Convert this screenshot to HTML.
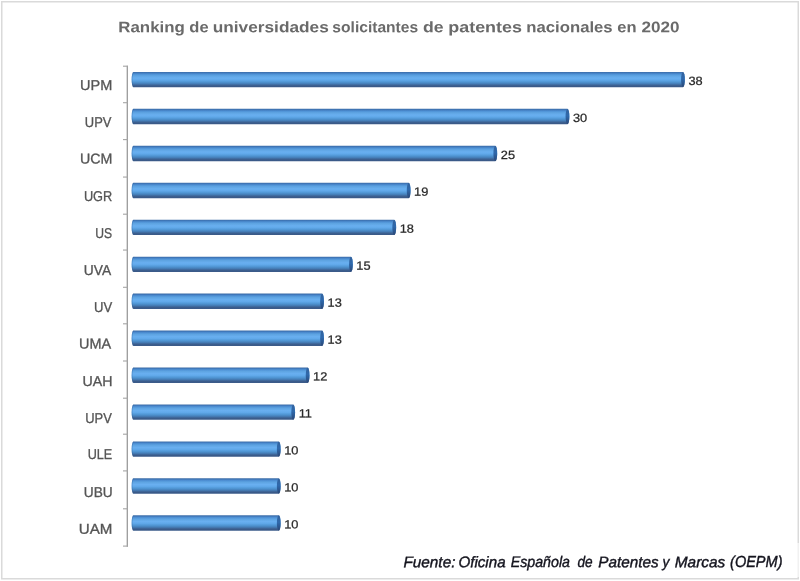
<!DOCTYPE html>
<html lang="es"><head><meta charset="utf-8">
<title>Ranking de universidades solicitantes de patentes nacionales en 2020</title>
<style>
html,body{margin:0;padding:0;background:#fff;}
body{width:800px;height:581px;overflow:hidden;font-family:"Liberation Sans",sans-serif;}
svg{display:block;text-rendering:geometricPrecision;}
.t{font-family:"Liberation Sans",sans-serif;font-weight:bold;fill:#6a6a6a;}
.c{font-family:"Liberation Sans",sans-serif;fill:#555555;stroke:#555555;stroke-width:0.3px;}
.v{font-family:"Liberation Sans",sans-serif;fill:#2a2a2a;stroke:#2a2a2a;stroke-width:0.25px;}
.f{font-family:"Liberation Sans",sans-serif;font-style:italic;fill:#14141e;stroke:#14141e;stroke-width:0.4px;}
</style></head><body>
<svg width="800" height="581" viewBox="0 0 800 581">
<defs>
<linearGradient id="g" x1="0" y1="0" x2="0" y2="1">
<stop offset="0" stop-color="#3e6ea6"/>
<stop offset="0.06" stop-color="#3f76b8"/>
<stop offset="0.15" stop-color="#4f92d6"/>
<stop offset="0.25" stop-color="#5ea4e2"/>
<stop offset="0.4" stop-color="#69aff0"/>
<stop offset="0.52" stop-color="#61a9ea"/>
<stop offset="0.65" stop-color="#5096d4"/>
<stop offset="0.76" stop-color="#4680ba"/>
<stop offset="0.86" stop-color="#3e6496"/>
<stop offset="0.93" stop-color="#395886"/>
<stop offset="1" stop-color="#3d5d8c"/>
</linearGradient>
<linearGradient id="cap" x1="0" y1="0" x2="0" y2="1">
<stop offset="0" stop-color="#33629c"/>
<stop offset="0.45" stop-color="#2f69ac"/>
<stop offset="1" stop-color="#2a4878"/>
</linearGradient>
</defs>
<rect x="0" y="0" width="800" height="581" fill="#ffffff"/>
<rect x="1.75" y="1.75" width="796.5" height="577" fill="none" stroke="#dadada" stroke-width="1.5"/>
<rect x="796" y="543" width="4" height="34" fill="#ffffff"/>
<rect x="797.5" y="543" width="1.5" height="34" fill="#f1f1f1"/>
<g transform="matrix(1 0.0005 0 1 0 0)">
<text class="t"><tspan x="118.32" y="32.14" font-size="15.3" textLength="66.52" lengthAdjust="spacingAndGlyphs">Ranking</tspan> <tspan x="189.34" y="32.11" font-size="15.3" textLength="19.27" lengthAdjust="spacingAndGlyphs">de</tspan> <tspan x="212.71" y="32.09" font-size="15.3" textLength="116.06" lengthAdjust="spacingAndGlyphs">universidades</tspan> <tspan x="332.38" y="32.03" font-size="15.3" textLength="85.78" lengthAdjust="spacingAndGlyphs">solicitantes</tspan> <tspan x="423.04" y="31.99" font-size="15.3" textLength="20.61" lengthAdjust="spacingAndGlyphs">de</tspan> <tspan x="448.24" y="31.98" font-size="15.3" textLength="73.77" lengthAdjust="spacingAndGlyphs">patentes</tspan> <tspan x="526.33" y="31.94" font-size="15.3" textLength="86.32" lengthAdjust="spacingAndGlyphs">nacionales</tspan> <tspan x="617.34" y="31.89" font-size="15.3" textLength="19.27" lengthAdjust="spacingAndGlyphs">en</tspan> <tspan x="641.49" y="31.88" font-size="15.3" textLength="38.03" lengthAdjust="spacingAndGlyphs">2020</tspan></text>
</g>
<line x1="127.3" y1="65.7" x2="127.3" y2="546.8" stroke="#9a9a9a" stroke-width="1.3"/>
<line x1="123.0" y1="66.2" x2="127.9" y2="66.2" stroke="#a4a4a4" stroke-width="1.1"/>
<line x1="123.0" y1="102.7" x2="127.9" y2="102.7" stroke="#a4a4a4" stroke-width="1.1"/>
<line x1="123.0" y1="139.6" x2="127.9" y2="139.6" stroke="#a4a4a4" stroke-width="1.1"/>
<line x1="123.0" y1="177.06" x2="127.9" y2="177.06" stroke="#a4a4a4" stroke-width="1.1"/>
<line x1="123.0" y1="214.2" x2="127.9" y2="214.2" stroke="#a4a4a4" stroke-width="1.1"/>
<line x1="123.0" y1="250.05" x2="127.9" y2="250.05" stroke="#a4a4a4" stroke-width="1.1"/>
<line x1="123.0" y1="287.3" x2="127.9" y2="287.3" stroke="#a4a4a4" stroke-width="1.1"/>
<line x1="123.0" y1="323.8" x2="127.9" y2="323.8" stroke="#a4a4a4" stroke-width="1.1"/>
<line x1="123.0" y1="361" x2="127.9" y2="361" stroke="#a4a4a4" stroke-width="1.1"/>
<line x1="123.0" y1="398.2" x2="127.9" y2="398.2" stroke="#a4a4a4" stroke-width="1.1"/>
<line x1="123.0" y1="434.2" x2="127.9" y2="434.2" stroke="#a4a4a4" stroke-width="1.1"/>
<line x1="123.0" y1="470.9" x2="127.9" y2="470.9" stroke="#a4a4a4" stroke-width="1.1"/>
<line x1="123.0" y1="508.8" x2="127.9" y2="508.8" stroke="#a4a4a4" stroke-width="1.1"/>
<line x1="123.0" y1="546.1" x2="127.9" y2="546.1" stroke="#a4a4a4" stroke-width="1.1"/>
<path d="M133.5,71.9 L682.97,71.9 A1.9,7.7 0 0 1 682.97,87.3 L133.5,87.3 A1.9,7.7 0 0 1 133.5,71.9 Z" fill="url(#g)"/>
<path d="M133.5,71.9 A1.9,7.7 0 0 0 133.5,87.3 L134.4,87.3 A1.9,7.7 0 0 1 134.4,71.9 Z" fill="#2f5f98" fill-opacity="0.35"/>
<ellipse cx="682.97" cy="79.6" rx="1.9" ry="7.4" fill="url(#cap)"/>
<path d="M133.5,108.85 L567.48,108.85 A1.9,7.7 0 0 1 567.48,124.25 L133.5,124.25 A1.9,7.7 0 0 1 133.5,108.85 Z" fill="url(#g)"/>
<path d="M133.5,108.85 A1.9,7.7 0 0 0 133.5,124.25 L134.4,124.25 A1.9,7.7 0 0 1 134.4,108.85 Z" fill="#2f5f98" fill-opacity="0.35"/>
<ellipse cx="567.48" cy="116.55" rx="1.9" ry="7.4" fill="url(#cap)"/>
<path d="M133.5,145.8 L495.3,145.8 A1.9,7.7 0 0 1 495.3,161.2 L133.5,161.2 A1.9,7.7 0 0 1 133.5,145.8 Z" fill="url(#g)"/>
<path d="M133.5,145.8 A1.9,7.7 0 0 0 133.5,161.2 L134.4,161.2 A1.9,7.7 0 0 1 134.4,145.8 Z" fill="#2f5f98" fill-opacity="0.35"/>
<ellipse cx="495.3" cy="153.5" rx="1.9" ry="7.4" fill="url(#cap)"/>
<path d="M133.5,182.75 L408.68,182.75 A1.9,7.7 0 0 1 408.68,198.15 L133.5,198.15 A1.9,7.7 0 0 1 133.5,182.75 Z" fill="url(#g)"/>
<path d="M133.5,182.75 A1.9,7.7 0 0 0 133.5,198.15 L134.4,198.15 A1.9,7.7 0 0 1 134.4,182.75 Z" fill="#2f5f98" fill-opacity="0.35"/>
<ellipse cx="408.68" cy="190.45" rx="1.9" ry="7.4" fill="url(#cap)"/>
<path d="M133.5,219.7 L394.25,219.7 A1.9,7.7 0 0 1 394.25,235.1 L133.5,235.1 A1.9,7.7 0 0 1 133.5,219.7 Z" fill="url(#g)"/>
<path d="M133.5,219.7 A1.9,7.7 0 0 0 133.5,235.1 L134.4,235.1 A1.9,7.7 0 0 1 134.4,219.7 Z" fill="#2f5f98" fill-opacity="0.35"/>
<ellipse cx="394.25" cy="227.4" rx="1.9" ry="7.4" fill="url(#cap)"/>
<path d="M133.5,256.65 L350.94,256.65 A1.9,7.7 0 0 1 350.94,272.05 L133.5,272.05 A1.9,7.7 0 0 1 133.5,256.65 Z" fill="url(#g)"/>
<path d="M133.5,256.65 A1.9,7.7 0 0 0 133.5,272.05 L134.4,272.05 A1.9,7.7 0 0 1 134.4,256.65 Z" fill="#2f5f98" fill-opacity="0.35"/>
<ellipse cx="350.94" cy="264.35" rx="1.9" ry="7.4" fill="url(#cap)"/>
<path d="M133.5,293.6 L322.07,293.6 A1.9,7.7 0 0 1 322.07,309 L133.5,309 A1.9,7.7 0 0 1 133.5,293.6 Z" fill="url(#g)"/>
<path d="M133.5,293.6 A1.9,7.7 0 0 0 133.5,309 L134.4,309 A1.9,7.7 0 0 1 134.4,293.6 Z" fill="#2f5f98" fill-opacity="0.35"/>
<ellipse cx="322.07" cy="301.3" rx="1.9" ry="7.4" fill="url(#cap)"/>
<path d="M133.5,330.55 L322.07,330.55 A1.9,7.7 0 0 1 322.07,345.95 L133.5,345.95 A1.9,7.7 0 0 1 133.5,330.55 Z" fill="url(#g)"/>
<path d="M133.5,330.55 A1.9,7.7 0 0 0 133.5,345.95 L134.4,345.95 A1.9,7.7 0 0 1 134.4,330.55 Z" fill="#2f5f98" fill-opacity="0.35"/>
<ellipse cx="322.07" cy="338.25" rx="1.9" ry="7.4" fill="url(#cap)"/>
<path d="M133.5,367.5 L307.63,367.5 A1.9,7.7 0 0 1 307.63,382.9 L133.5,382.9 A1.9,7.7 0 0 1 133.5,367.5 Z" fill="url(#g)"/>
<path d="M133.5,367.5 A1.9,7.7 0 0 0 133.5,382.9 L134.4,382.9 A1.9,7.7 0 0 1 134.4,367.5 Z" fill="#2f5f98" fill-opacity="0.35"/>
<ellipse cx="307.63" cy="375.2" rx="1.9" ry="7.4" fill="url(#cap)"/>
<path d="M133.5,404.45 L293.2,404.45 A1.9,7.7 0 0 1 293.2,419.85 L133.5,419.85 A1.9,7.7 0 0 1 133.5,404.45 Z" fill="url(#g)"/>
<path d="M133.5,404.45 A1.9,7.7 0 0 0 133.5,419.85 L134.4,419.85 A1.9,7.7 0 0 1 134.4,404.45 Z" fill="#2f5f98" fill-opacity="0.35"/>
<ellipse cx="293.2" cy="412.15" rx="1.9" ry="7.4" fill="url(#cap)"/>
<path d="M133.5,441.4 L278.76,441.4 A1.9,7.7 0 0 1 278.76,456.8 L133.5,456.8 A1.9,7.7 0 0 1 133.5,441.4 Z" fill="url(#g)"/>
<path d="M133.5,441.4 A1.9,7.7 0 0 0 133.5,456.8 L134.4,456.8 A1.9,7.7 0 0 1 134.4,441.4 Z" fill="#2f5f98" fill-opacity="0.35"/>
<ellipse cx="278.76" cy="449.1" rx="1.9" ry="7.4" fill="url(#cap)"/>
<path d="M133.5,478.35 L278.76,478.35 A1.9,7.7 0 0 1 278.76,493.75 L133.5,493.75 A1.9,7.7 0 0 1 133.5,478.35 Z" fill="url(#g)"/>
<path d="M133.5,478.35 A1.9,7.7 0 0 0 133.5,493.75 L134.4,493.75 A1.9,7.7 0 0 1 134.4,478.35 Z" fill="#2f5f98" fill-opacity="0.35"/>
<ellipse cx="278.76" cy="486.05" rx="1.9" ry="7.4" fill="url(#cap)"/>
<path d="M133.5,515.3 L278.76,515.3 A1.9,7.7 0 0 1 278.76,530.7 L133.5,530.7 A1.9,7.7 0 0 1 133.5,515.3 Z" fill="url(#g)"/>
<path d="M133.5,515.3 A1.9,7.7 0 0 0 133.5,530.7 L134.4,530.7 A1.9,7.7 0 0 1 134.4,515.3 Z" fill="#2f5f98" fill-opacity="0.35"/>
<ellipse cx="278.76" cy="523" rx="1.9" ry="7.4" fill="url(#cap)"/>
<g transform="matrix(1 0.0005 0 1 0 0)">
<text class="c" x="79.99" y="89.96" font-size="14.2" textLength="32.25" lengthAdjust="spacingAndGlyphs">UPM</text>
<text class="v" x="688.46" y="84.66" font-size="12" textLength="14.26" lengthAdjust="spacingAndGlyphs">38</text>
<text class="c" x="84.86" y="126.76" font-size="14.2" textLength="26.62" lengthAdjust="spacingAndGlyphs">UPV</text>
<text class="v" x="572.97" y="121.66" font-size="12" textLength="14.26" lengthAdjust="spacingAndGlyphs">30</text>
<text class="c" x="80.06" y="163.36" font-size="14.2" textLength="32.44" lengthAdjust="spacingAndGlyphs">UCM</text>
<text class="v" x="500.78" y="158.65" font-size="12" textLength="14.26" lengthAdjust="spacingAndGlyphs">25</text>
<text class="c" x="83.88" y="200.86" font-size="14.2" textLength="28.39" lengthAdjust="spacingAndGlyphs">UGR</text>
<text class="v" x="414.14" y="195.64" font-size="12" textLength="14.26" lengthAdjust="spacingAndGlyphs">19</text>
<text class="c" x="95.33" y="237.65" font-size="14.2" textLength="16.87" lengthAdjust="spacingAndGlyphs">US</text>
<text class="v" x="399.7" y="232.6" font-size="12" textLength="14.26" lengthAdjust="spacingAndGlyphs">18</text>
<text class="c" x="83.8" y="275.21" font-size="14.2" textLength="27.33" lengthAdjust="spacingAndGlyphs">UVA</text>
<text class="v" x="356.39" y="269.57" font-size="12" textLength="14.26" lengthAdjust="spacingAndGlyphs">15</text>
<text class="c" x="93.95" y="311.65" font-size="14.2" textLength="18.17" lengthAdjust="spacingAndGlyphs">UV</text>
<text class="v" x="327.52" y="306.54" font-size="12" textLength="14.26" lengthAdjust="spacingAndGlyphs">13</text>
<text class="c" x="79.04" y="348.36" font-size="14.2" textLength="32.09" lengthAdjust="spacingAndGlyphs">UMA</text>
<text class="v" x="327.52" y="343.49" font-size="12" textLength="14.26" lengthAdjust="spacingAndGlyphs">13</text>
<text class="c" x="82.56" y="385.96" font-size="14.2" textLength="29.99" lengthAdjust="spacingAndGlyphs">UAH</text>
<text class="v" x="313.09" y="380.44" font-size="12" textLength="14.26" lengthAdjust="spacingAndGlyphs">12</text>
<text class="c" x="85.16" y="422.71" font-size="14.2" textLength="26.62" lengthAdjust="spacingAndGlyphs">UPV</text>
<text class="v" x="298.65" y="417.4" font-size="12" textLength="13.3" lengthAdjust="spacingAndGlyphs">11</text>
<text class="c" x="87.69" y="459.26" font-size="14.2" textLength="24.58" lengthAdjust="spacingAndGlyphs">ULE</text>
<text class="v" x="284.21" y="454.36" font-size="12" textLength="14.26" lengthAdjust="spacingAndGlyphs">10</text>
<text class="c" x="83.8" y="496.76" font-size="14.2" textLength="28.91" lengthAdjust="spacingAndGlyphs">UBU</text>
<text class="v" x="284.21" y="491.31" font-size="12" textLength="14.26" lengthAdjust="spacingAndGlyphs">10</text>
<text class="c" x="78.79" y="533.66" font-size="14.2" textLength="33.66" lengthAdjust="spacingAndGlyphs">UAM</text>
<text class="v" x="284.21" y="528.26" font-size="12" textLength="14.26" lengthAdjust="spacingAndGlyphs">10</text>
</g>
<g transform="matrix(1 0.0005 0 1 0 0)">
<text class="f"><tspan x="403.44" y="567.15" font-size="15.4" textLength="51.99" lengthAdjust="spacingAndGlyphs">Fuente:</tspan> <tspan x="458.44" y="567.12" font-size="15.4" textLength="47.15" lengthAdjust="spacingAndGlyphs">Oficina</tspan> <tspan x="510.67" y="567.09" font-size="15.4" textLength="59.35" lengthAdjust="spacingAndGlyphs">Española</tspan> <tspan x="577.39" y="567.06" font-size="15.4" textLength="15.19" lengthAdjust="spacingAndGlyphs">de</tspan> <tspan x="598.29" y="567.05" font-size="15.4" textLength="60.43" lengthAdjust="spacingAndGlyphs">Patentes</tspan> <tspan x="662.49" y="567.02" font-size="15.4" textLength="6.92" lengthAdjust="spacingAndGlyphs">y</tspan> <tspan x="674.74" y="567.01" font-size="15.4" textLength="50.5" lengthAdjust="spacingAndGlyphs">Marcas</tspan> <tspan x="730.07" y="566.98" font-size="16" textLength="52.41" lengthAdjust="spacingAndGlyphs">(OEPM)</tspan></text>
</g>
</svg>
</body></html>
